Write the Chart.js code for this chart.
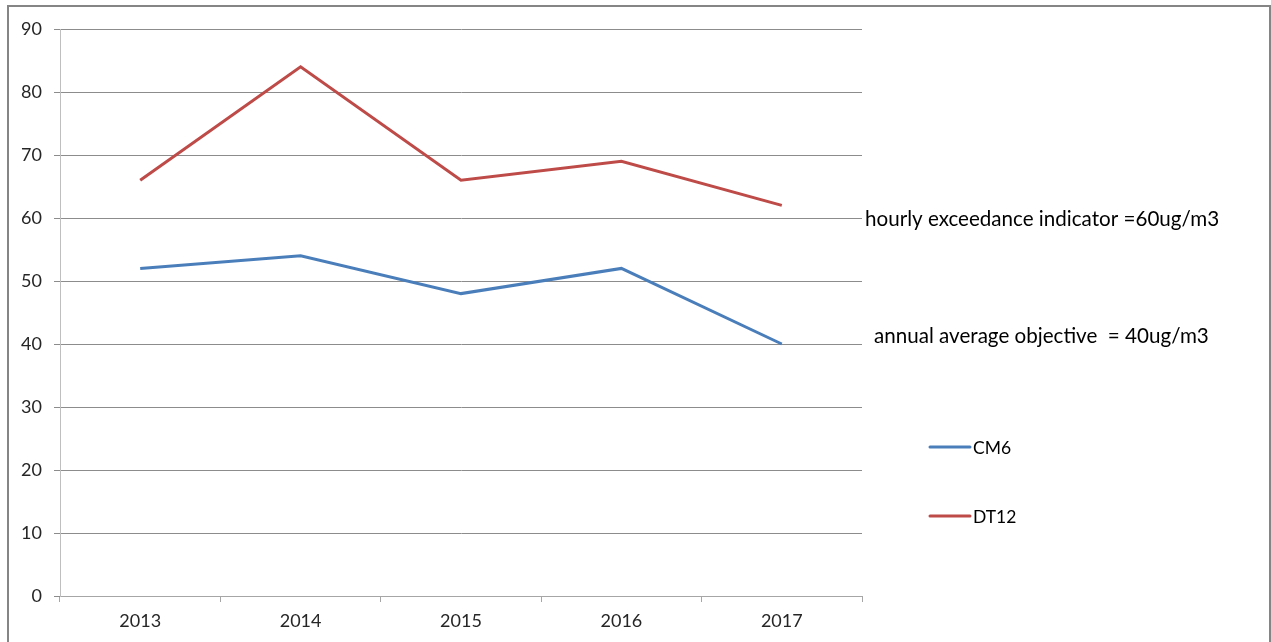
<!DOCTYPE html>
<html>
<head>
<meta charset="utf-8">
<script src="https://cdn.jsdelivr.net/npm/chart.js@4"></script>
<style>
  html, body { margin: 0; padding: 0; background: #fff; }
  #wrap { position: relative; width: 1271px; height: 642px; }
  #frame {
    position: absolute; left: 7px; top: 5px; right: 0; bottom: -4px;
    border: 2px solid #858585; pointer-events: none;
  }
</style>
</head>
<body>
<div id="wrap">
  <canvas id="no2Chart" width="1271" height="642"></canvas>
  <div id="frame"></div>
</div>
<script>
const years = ['2013', '2014', '2015', '2016', '2017'];
const cm6 = [52, 54, 48, 52, 40];
const dt12 = [66, 84, 66, 69, 62];
const seriesNames = ['CM6', 'DT12'];
const seriesColors = ['#4a7ebb', '#be4b48'];
const notes = [
    { text: 'hourly exceedance indicator =60ug/m3', value: 60 },
    { text: 'annual average objective  = 40ug/m3', value: 40 }
];

const FONT = 'Lato, "Open Sans", sans-serif';

// side legend and the two limit notes, drawn to the right of the plot
const sideText = {
    id: 'sideText',
    afterDraw(chart) {
        const ctx = chart.ctx;
        const y = chart.scales.y;
        ctx.save();
        ctx.fillStyle = '#000';
        ctx.textBaseline = 'middle';
        ctx.font = '20.6px ' + FONT;
        ctx.fillText(notes[0].text, 865, y.getPixelForValue(notes[0].value) + 1);
        ctx.fillText(notes[1].text, 874, y.getPixelForValue(notes[1].value) - 8);

        ctx.font = '17.5px ' + FONT;
        chart.data.datasets.forEach((ds, i) => {
            const ly = 447 + i * 69;
            ctx.strokeStyle = ds.borderColor;
            ctx.lineWidth = 3;
            ctx.lineCap = 'round';
            ctx.beginPath();
            ctx.moveTo(930, ly);
            ctx.lineTo(970, ly);
            ctx.stroke();
            ctx.fillText(ds.label, 973, ly + 1);
        });
        ctx.restore();
    }
};

const ctx = document.getElementById('no2Chart').getContext('2d');
new Chart(ctx, {
    type: 'line',
    data: {
        labels: years,
        datasets: [
            {
                label: seriesNames[0],
                data: cm6,
                borderColor: seriesColors[0],
                borderWidth: 3,
                pointRadius: 0,
                fill: false,
                tension: 0
            },
            {
                label: seriesNames[1],
                data: dt12,
                borderColor: seriesColors[1],
                borderWidth: 3,
                pointRadius: 0,
                fill: false,
                tension: 0
            }
        ]
    },
    options: {
        responsive: false,
        animation: false,
        layout: { padding: { top: 29, right: 409, left: 0, bottom: 0 } },
        scales: {
            x: {
                offset: true,
                grid: {
                    offset: true,
                    drawOnChartArea: false,
                    drawTicks: true,
                    tickLength: 6,
                    color: '#a6a6a6'
                },
                border: { color: '#a6a6a6' },
                ticks: {
                    color: '#262626',
                    font: { family: FONT, size: 18 },
                    padding: 8
                },
                afterFit(scale) { scale.height = 46; }
            },
            y: {
                min: 0,
                max: 90,
                ticks: {
                    stepSize: 10,
                    color: '#262626',
                    font: { family: FONT, size: 18 },
                    padding: 12
                },
                grid: {
                    color: '#8c8c8c',
                    tickLength: 6
                },
                border: { color: '#bfbfbf' },
                afterFit(scale) { scale.width = 60; }
            }
        },
        plugins: {
            legend: { display: false },
            tooltip: { enabled: false }
        }
    },
    plugins: [sideText]
});
</script>
</body>
</html>
